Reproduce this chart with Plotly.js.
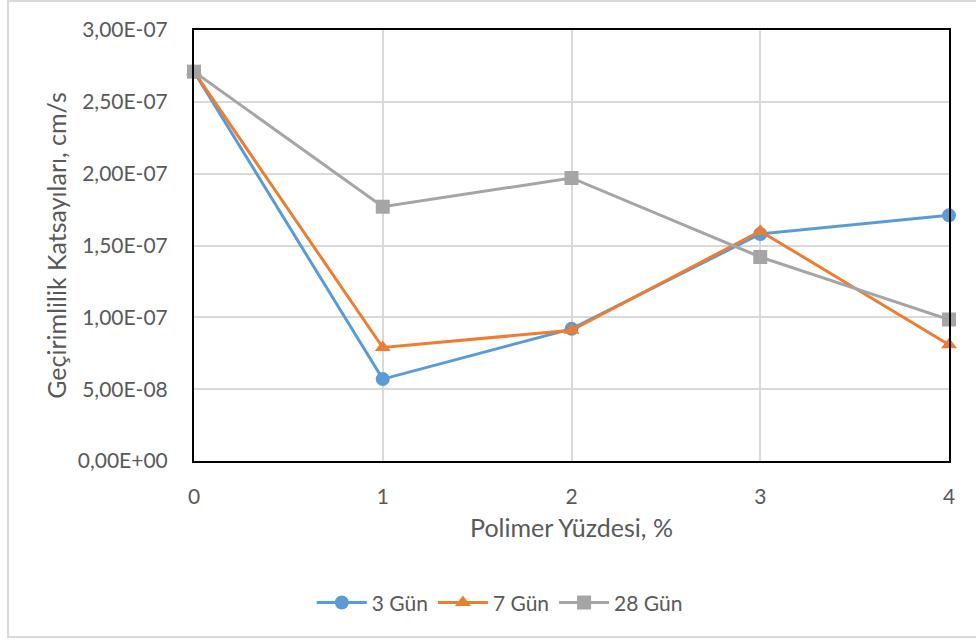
<!DOCTYPE html>
<html>
<head>
<meta charset="utf-8">
<script src="https://cdn.plot.ly/plotly-3.0.1.min.js"></script>
<style>
  html, body { margin: 0; padding: 0; background: #fff; }
  #wrap { position: relative; width: 976px; height: 643px; }
  #chart { width: 976px; height: 643px; }
  #frame {
    position: absolute; left: 7px; top: 0px; width: 975px; height: 638px;
    border: 2px solid #D9D9D9; box-sizing: border-box; pointer-events: none;
  }
</style>
</head>
<body>
<div id="wrap">
  <div id="chart"></div>
  <div id="frame"></div>
</div>
<script>
// Polimer yüzdesi (%)
const polymerPct = [0, 1, 2, 3, 4];

// Geçirimlilik katsayıları (cm/s)
const gun3 = [2.71e-7, 5.7e-8, 9.2e-8, 1.58e-7, 1.71e-7];
const gun7 = [2.71e-7, 7.9e-8, 9.1e-8, 1.60e-7, 8.1e-8];
const gun28 = [2.71e-7, 1.77e-7, 1.97e-7, 1.42e-7, 9.85e-8];

const seriesNames = ['3 Gün', '7 Gün', '28 Gün'];

const yTickVals = [0, 5e-8, 1e-7, 1.5e-7, 2e-7, 2.5e-7, 3e-7];
const yTickText = ['0,00E+00', '5,00E-08', '1,00E-07', '1,50E-07', '2,00E-07', '2,50E-07', '3,00E-07'];

const FONT = 'Lato, "Open Sans", sans-serif';
const TEXT = '#595959';

function series(name, y, color, symbol) {
  return {
    type: 'scatter', mode: 'lines+markers', name: name,
    x: polymerPct, y: y, cliponaxis: false,
    line: { color: color, width: 3 },
    marker: { color: color, symbol: symbol, size: 14 }
  };
}

const data = [
  series(seriesNames[0], gun3, '#5B9BD5', 'circle'),
  series(seriesNames[1], gun7, '#ED7D31', 'triangle-up'),
  series(seriesNames[2], gun28, '#A5A5A5', 'square')
];

const layout = {
  width: 976, height: 643,
  margin: { l: 194, r: 27, t: 30, b: 182 },
  paper_bgcolor: '#fff', plot_bgcolor: '#fff',
  font: { family: FONT, size: 21, color: TEXT },
  showlegend: true,
  legend: {
    orientation: 'h', x: 0.405, xanchor: 'center', y: -0.329, yanchor: 'middle',
    font: { family: FONT, size: 21, color: TEXT },
    itemwidth: 50
  },
  xaxis: {
    range: [0, 4], tickvals: polymerPct, ticktext: polymerPct.map(String),
    tickfont: { family: FONT, size: 21, color: TEXT },
    showgrid: true, gridcolor: '#D9D9D9', gridwidth: 2,
    showline: true, linecolor: '#000', linewidth: 2, mirror: true,
    zeroline: false, ticks: '', ticklabelstandoff: 16,
    title: { text: 'Polimer Yüzdesi, %', font: { family: FONT, size: 25, color: TEXT }, standoff: 12 }
  },
  yaxis: {
    range: [0, 3e-7], tickvals: yTickVals, ticktext: yTickText,
    tickfont: { family: FONT, size: 21, color: TEXT },
    showgrid: true, gridcolor: '#D9D9D9', gridwidth: 2,
    showline: true, linecolor: '#000', linewidth: 2, mirror: true,
    zeroline: false, ticks: '', ticklabelstandoff: 20,
    title: { text: 'Geçirimlilik Katsayıları, cm/s', font: { family: FONT, size: 25, color: TEXT }, standoff: 4 }
  }
};

Plotly.newPlot('chart', data, layout, { displayModeBar: false, staticPlot: true });
</script>
</body>
</html>
